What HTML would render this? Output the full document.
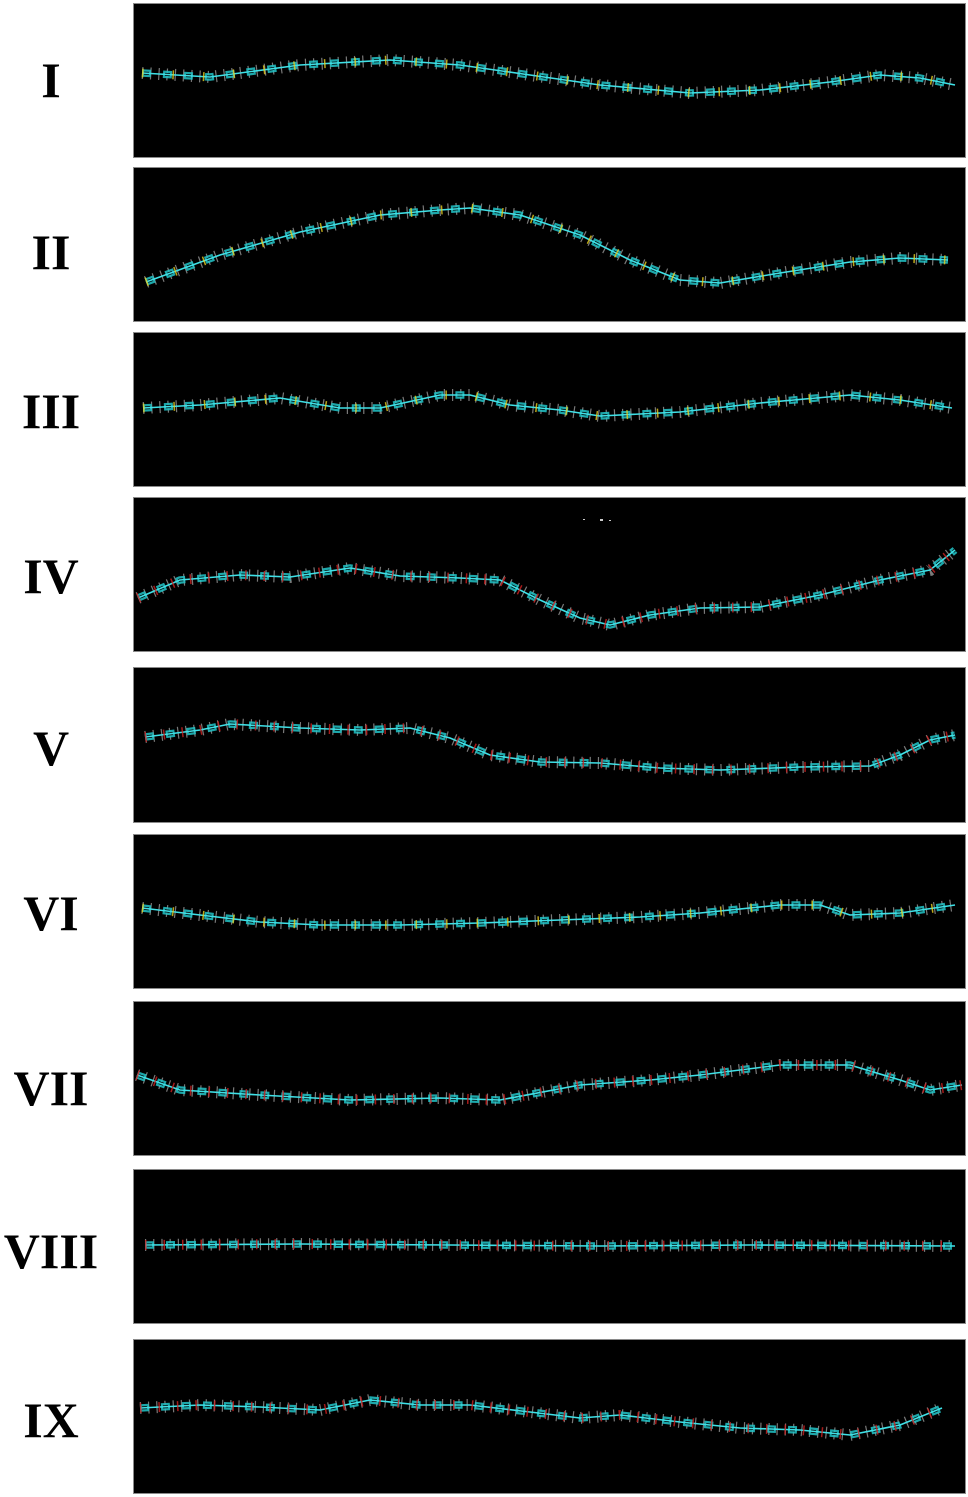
<!DOCTYPE html>
<html><head><meta charset="utf-8"><style>
html,body{margin:0;padding:0;background:#fff;}
svg{display:block;}
text{font-family:"Liberation Serif","DejaVu Serif",serif;font-weight:bold;fill:#000;}
.rings{fill:none;stroke:#22c4c8;stroke-width:7.5;stroke-dasharray:9 12;stroke-linejoin:round;opacity:.85}
.hole{fill:none;stroke:#000;stroke-width:3;stroke-dasharray:5 16;stroke-dashoffset:-2;}
.bond{fill:none;stroke:#3fe0e6;stroke-width:1.6;stroke-linejoin:round}
.hyd{fill:none;stroke:#ddd;stroke-width:12;stroke-dasharray:1.2 7;opacity:.55}
.acc{fill:none;stroke:#e8d020;stroke-width:9;stroke-dasharray:1.5 29;opacity:.8}
.ox{fill:none;stroke:#d02020;stroke-width:10;stroke-dasharray:1.5 17;opacity:.8}
</style></head><body>
<svg width="968" height="1497" viewBox="0 0 968 1497" xmlns="http://www.w3.org/2000/svg">
<rect width="968" height="1497" fill="#fff"/>
<g fill="#000" stroke="#8a8a8a" stroke-width="1">
<rect x="133.5" y="3.5" width="832" height="154"/>
<rect x="133.5" y="167.5" width="832" height="154"/>
<rect x="133.5" y="332.5" width="832" height="154"/>
<rect x="133.5" y="497.5" width="832" height="154"/>
<rect x="133.5" y="667.5" width="832" height="155"/>
<rect x="133.5" y="834.5" width="832" height="154"/>
<rect x="133.5" y="1001.5" width="832" height="154"/>
<rect x="133.5" y="1169.5" width="832" height="154"/>
<rect x="133.5" y="1339.5" width="832" height="154"/>
</g>
<g font-size="50" text-anchor="middle">
<text x="51" y="97">I</text>
<text x="51" y="269">II</text>
<text x="51" y="428">III</text>
<text x="51" y="593">IV</text>
<text x="51" y="765">V</text>
<text x="51" y="930">VI</text>
<text x="51" y="1105">VII</text>
<text x="51" y="1268">VIII</text>
<text x="51" y="1437">IX</text>
</g>
<defs>
<polyline id="c1" points="142,73 210,77 300,65 390,60 460,65 530,75 600,85 690,93 760,90 830,82 880,75 920,78 955,85"/>
<polyline id="c2" points="146,282 220,255 300,232 380,215 440,210 470,208 520,215 580,235 630,260 680,280 720,283 780,273 850,262 900,258 948,260"/>
<polyline id="c3" points="143,408 200,405 280,398 340,408 380,408 440,395 470,395 510,405 560,410 600,416 680,412 760,403 850,395 900,400 952,408"/>
<polyline id="c4" points="138,598 180,580 240,575 290,577 350,568 400,576 460,578 500,580 540,600 580,618 610,625 650,615 700,608 760,607 820,595 880,580 930,570 955,550"/>
<polyline id="c5" points="145,737 200,730 230,724 300,728 360,730 410,728 450,738 490,755 540,762 600,763 660,768 720,770 800,767 870,766 900,755 930,740 955,735"/>
<polyline id="c6" points="142,908 200,915 260,922 320,925 400,925 480,923 560,920 640,917 700,913 780,905 820,905 850,915 900,913 955,905"/>
<polyline id="c7" points="137,1075 180,1090 260,1095 350,1100 440,1098 500,1100 580,1085 650,1080 700,1075 780,1065 850,1065 900,1080 930,1090 962,1085"/>
<polyline id="c8" points="145,1245 300,1244 450,1245 600,1246 750,1245 955,1246"/>
<polyline id="c9" points="140,1408 200,1405 260,1407 320,1410 370,1400 420,1405 470,1405 530,1412 580,1418 620,1415 680,1422 740,1428 800,1430 850,1435 900,1425 942,1408"/>
</defs>
<g>
<use href="#c1" class="hyd"/><use href="#c1" class="rings"/><use href="#c1" class="hole"/><use href="#c1" class="bond"/><use href="#c1" class="acc"/>
<use href="#c2" class="hyd"/><use href="#c2" class="rings"/><use href="#c2" class="hole"/><use href="#c2" class="bond"/><use href="#c2" class="acc"/>
<use href="#c3" class="hyd"/><use href="#c3" class="rings"/><use href="#c3" class="hole"/><use href="#c3" class="bond"/><use href="#c3" class="acc"/>
<use href="#c4" class="hyd"/><use href="#c4" class="rings"/><use href="#c4" class="hole"/><use href="#c4" class="bond"/><use href="#c4" class="ox"/>
<use href="#c5" class="hyd"/><use href="#c5" class="rings"/><use href="#c5" class="hole"/><use href="#c5" class="bond"/><use href="#c5" class="ox"/>
<use href="#c6" class="hyd"/><use href="#c6" class="rings"/><use href="#c6" class="hole"/><use href="#c6" class="bond"/><use href="#c6" class="acc"/>
<use href="#c7" class="hyd"/><use href="#c7" class="rings"/><use href="#c7" class="hole"/><use href="#c7" class="bond"/><use href="#c7" class="ox"/>
<use href="#c8" class="hyd"/><use href="#c8" class="rings"/><use href="#c8" class="hole"/><use href="#c8" class="bond"/><use href="#c8" class="ox"/>
<use href="#c9" class="hyd"/><use href="#c9" class="rings"/><use href="#c9" class="hole"/><use href="#c9" class="bond"/><use href="#c9" class="ox"/>
</g>
<g fill="#ccc"><rect x="583" y="519" width="2" height="1"/><rect x="600" y="519" width="3" height="2"/><rect x="609" y="520" width="2" height="1"/></g>
</svg>
</body></html>
